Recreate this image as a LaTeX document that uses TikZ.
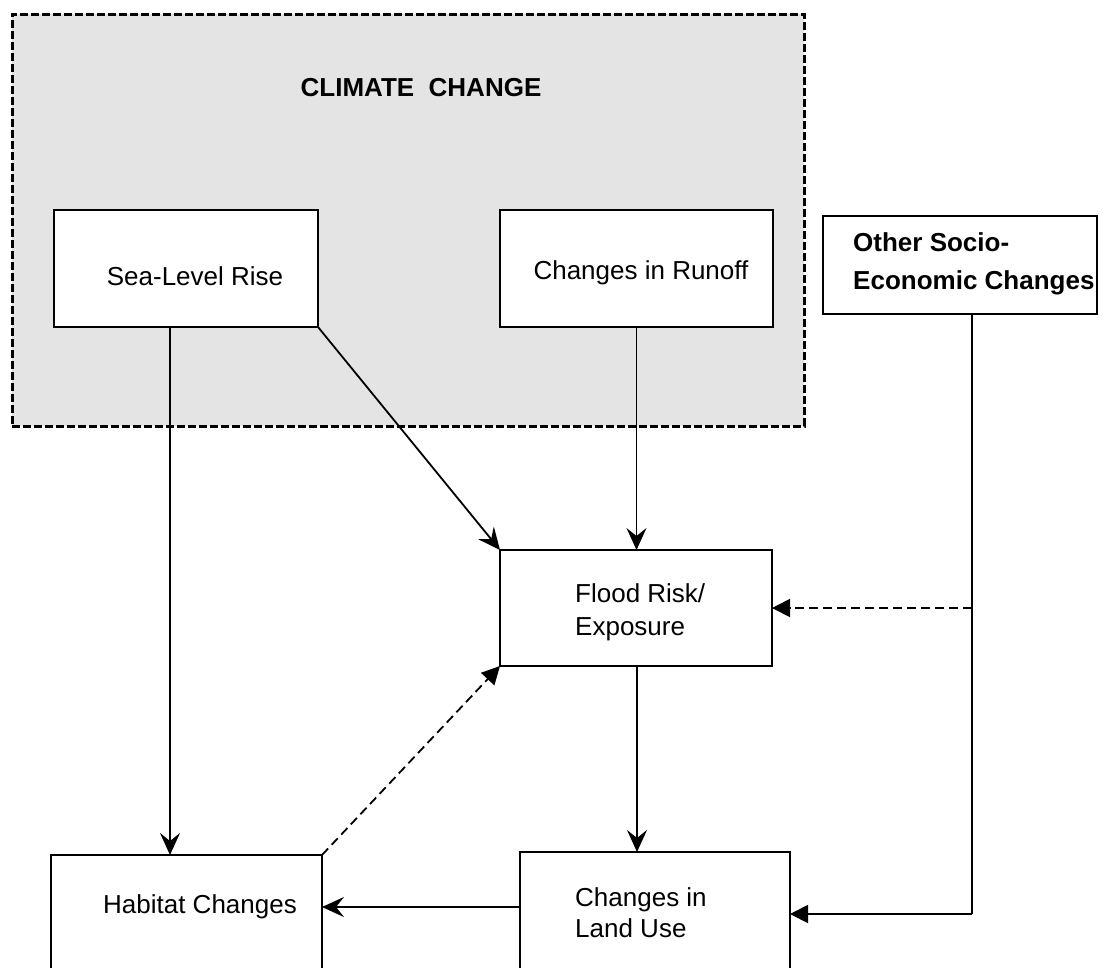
\documentclass[tikz,border=0pt]{standalone}
\usepackage{fontspec}
\setmainfont{Liberation Sans}
\usetikzlibrary{arrows.meta}
\definecolor{ccgray}{RGB}{228,228,228}
\begin{document}
\begin{tikzpicture}[x=1pt,y=-1pt,
  box/.style={draw, line width=1.8pt, fill=white, inner sep=0pt, outer sep=0pt, anchor=north west},
  txt/.style={font=\fontsize{26}{30}\selectfont, inner sep=0pt},
  openarr/.style={-{Stealth[length=22pt,width=20pt,inset=8pt]}, line width=1.8pt},
  fillarr/.style={-{Triangle[length=18pt,width=18pt]}, line width=1.8pt},
  dline/.style={dash pattern=on 9pt off 5pt}]
\useasboundingbox (0,0) rectangle (1103,967);
\clip (0,0) rectangle (1103,967);
% climate change region
\node[draw, line width=3pt, dash pattern=on 8pt off 3pt, fill=ccgray, inner sep=0pt, outer sep=0pt,
      minimum width=792pt, minimum height=412pt, anchor=north west] (cc) at (12,14) {};
\node[txt, font=\fontsize{26}{30}\selectfont\bfseries] (cctitle) at (421,88) {CLIMATE\ \ CHANGE};
% boxes
\node[box, minimum width=264pt, minimum height=117pt] (slr) at (54,210) {};
\node[box, minimum width=273pt, minimum height=117pt] (run) at (500,210) {};
\node[box, minimum width=274pt, minimum height=98pt] (soc) at (823,216) {};
\node[box, minimum width=272pt, minimum height=116pt] (flood) at (500,550) {};
\node[box, minimum width=271pt, minimum height=140pt] (hab) at (51,855) {};
\node[box, minimum width=270pt, minimum height=140pt] (land) at (520,852) {};
% texts
\node[txt] (slrt) at (195,276) {Sea-Level Rise};
\node[txt] (runt) at (641,273) {Changes in Runoff};
\node[txt, anchor=west, align=left, font=\fontsize{26}{38}\selectfont\bfseries] (soct) at (853,264) {Other Socio-\\Economic Changes};
\node[txt, anchor=west, align=left, font=\fontsize{26}{33}\selectfont] (floodt) at (575,612) {Flood Risk/\\Exposure};
\node[txt] (habt) at (200,907) {Habitat Changes};
\node[txt, anchor=west, align=left, font=\fontsize{26}{31}\selectfont] (landt) at (575,913) {Changes in\\Land Use};
% helper coordinates
\coordinate (sx) at (170,0);
\coordinate (sj) at (972,608);
\coordinate (sb) at (972,914);
\coordinate (lh) at (0,907);
\coordinate (fx) at (637,0);
% connectors
\draw[openarr] (slr.south -| sx) -- (hab.north -| sx);
\draw[openarr] (slr.south east) -- (flood.north west);
\draw[openarr] (run.south) -- (flood.north -| run.south);
\draw[openarr] (flood.south -| fx) -- (land.north -| fx);
\draw[openarr] (lh -| land.west) -- (lh -| hab.east);
\draw[line width=1.8pt] (soc.south -| sb) -- (sb);
\draw[fillarr] (sb) -- (sb -| land.east);
\draw[fillarr, dline] (sj) -- (sj -| flood.east);
\draw[fillarr, dline, line width=1.8pt] (hab.north east) -- (flood.south west);
\end{tikzpicture}
\end{document}
